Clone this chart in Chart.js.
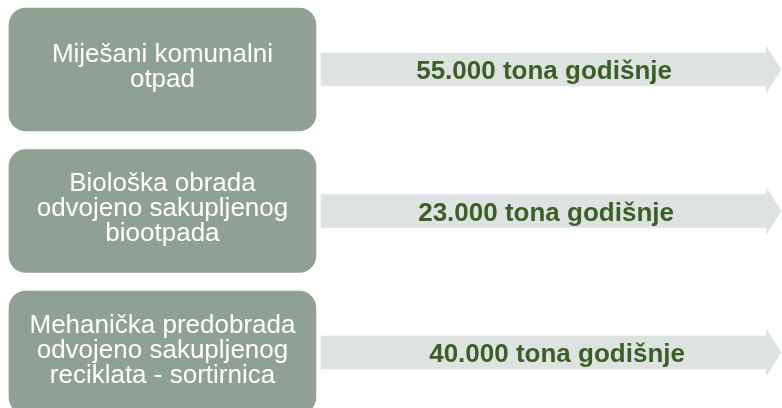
<!DOCTYPE html>
<html>
<head>
<meta charset="utf-8">
<script src="https://cdn.jsdelivr.net/npm/chart.js@4/dist/chart.umd.min.js"></script>
<style>
  html, body { margin: 0; padding: 0; background: #ffffff; overflow: hidden; }
  #wrap { width: 782px; height: 408px; position: relative; }
</style>
</head>
<body>
<div id="wrap"><canvas id="c"></canvas></div>
<script>
// ---- data ----
const categories = [
  ["Miješani komunalni", "otpad"],
  ["Biološka obrada", "odvojeno sakupljenog", "biootpada"],
  ["Mehanička predobrada", "odvojeno sakupljenog", "reciklata - sortirnica"]
];
const tonnesPerYear = [55000, 23000, 40000];
const unitLabel = "tona godišnje";

// ---- layout / style (not data) ----
const X_MIN = 0, X_MAX = 100;
const BOX_SPAN = [1.15, 40.4];
const ARROW_SPAN = [41.05, 98.1];
const ARROW_TIP = 99.9;
const LABEL_DX = [0, 2, 13];
const COLORS = { box: "#8fa095", arrow: "#dee2e0", value: "#3b5f26", boxText: "#ffffff" };
const FONT = "'Liberation Sans', Arial, sans-serif";

function fmt(n) {
  return String(n).replace(/\B(?=(\d{3})+(?!\d))/g, ".");
}

const boxData = categories.map((c, i) => ({ y: i, x: BOX_SPAN.slice() }));
const arrowData = tonnesPerYear.map((v, i) => ({ y: i, x: ARROW_SPAN.slice() }));

const decorPlugin = {
  id: "decor",
  afterDatasetsDraw(chart) {
    const ctx = chart.ctx;
    const xs = chart.scales.x;
    const boxMeta = chart.getDatasetMeta(0);
    const arrowMeta = chart.getDatasetMeta(1);
    ctx.save();
    // arrow heads
    arrowMeta.data.forEach((el) => {
      const tip = xs.getPixelForValue(ARROW_TIP);
      ctx.fillStyle = COLORS.arrow;
      ctx.beginPath();
      ctx.moveTo(el.x - 1, el.y - 24);
      ctx.lineTo(tip, el.y);
      ctx.lineTo(el.x - 1, el.y + 24);
      ctx.closePath();
      ctx.fill();
    });
    // box labels
    ctx.fillStyle = COLORS.boxText;
    ctx.font = "26px " + FONT;
    ctx.textAlign = "center";
    ctx.textBaseline = "alphabetic";
    boxMeta.data.forEach((el, i) => {
      const cx = (el.x + el.base) / 2;
      const lines = categories[i];
      const lh = 25;
      lines.forEach((ln, k) => {
        const by = el.y + 5 + (k - (lines.length - 1) / 2) * lh;
        ctx.fillText(ln, cx, by);
      });
    });
    // value labels
    ctx.fillStyle = COLORS.value;
    ctx.font = "bold 26px " + FONT;
    arrowMeta.data.forEach((el, i) => {
      const cx = (el.x + el.base) / 2 + LABEL_DX[i];
      ctx.fillText(fmt(tonnesPerYear[i]) + " " + unitLabel, cx, el.y + 9.5);
    });
    ctx.restore();
  }
};

new Chart(document.getElementById("c"), {
  type: "bar",
  data: {
    datasets: [
      {
        label: "box",
        data: boxData,
        backgroundColor: COLORS.box,
        borderRadius: 17,
        borderSkipped: false,
        barThickness: 123,
        grouped: false
      },
      {
        label: "arrow",
        data: arrowData,
        backgroundColor: COLORS.arrow,
        borderRadius: 0,
        borderSkipped: false,
        barThickness: 33,
        grouped: false
      }
    ]
  },
  options: {
    indexAxis: "y",
    responsive: true,
    maintainAspectRatio: false,
    devicePixelRatio: 1,
    animation: false,
    layout: { padding: 0 },
    plugins: { legend: { display: false }, tooltip: { enabled: false } },
    scales: {
      x: { type: "linear", min: X_MIN, max: X_MAX, display: false, offset: false },
      y: { type: "linear", min: -0.4912, max: 2.3922, reverse: true, display: false, offset: false }
    }
  },
  plugins: [decorPlugin]
});
</script>
</body>
</html>
